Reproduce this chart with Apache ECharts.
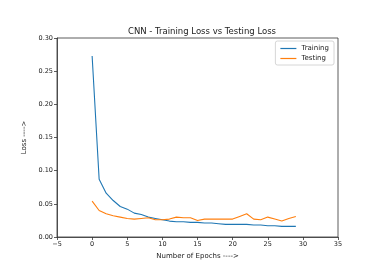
<!DOCTYPE html>
<html><head><meta charset="utf-8">
<script src="https://cdn.jsdelivr.net/npm/echarts@6/dist/echarts.min.js"></script>
<style>html,body{margin:0;padding:0;background:#fff}#c{width:386px;height:273px}</style>
</head><body><div id="c"></div>
<script>
var epochs = [0,1,2,3,4,5,6,7,8,9,10,11,12,13,14,15,16,17,18,19,20,21,22,23,24,25,26,27,28,29];
var trainingLoss = [0.273,0.087,0.066,0.055,0.046,0.042,0.036,0.034,0.030,0.028,0.026,0.024,0.023,0.023,0.022,0.022,0.021,0.021,0.020,0.019,0.019,0.019,0.019,0.018,0.018,0.017,0.017,0.016,0.016,0.016];
var testingLoss = [0.054,0.040,0.035,0.032,0.030,0.028,0.027,0.028,0.029,0.026,0.026,0.027,0.030,0.029,0.029,0.025,0.027,0.027,0.027,0.027,0.027,0.031,0.035,0.027,0.026,0.030,0.027,0.024,0.028,0.031];
var titleText = 'CNN - Training Loss vs Testing Loss';
var xName = 'Number of Epochs ---->';
var yName = 'Loss ---->';
var font = 'DejaVu Sans';
var chart = echarts.init(document.getElementById('c'), null, {renderer:'canvas'});
function pairs(ys){return epochs.map(function(x,i){return [x, ys[i]];});}
chart.setOption({
  animation:false,
  backgroundColor:'#fff',
  title:{text:titleText,left:197,top:22,textAlign:'center',textStyle:{fontFamily:font,fontSize:8.5,fontWeight:'normal',color:'#222'}},
  grid:{left:57,right:48,top:38,bottom:36,show:true,borderColor:'#333',borderWidth:0.8},
  legend:{right:52,top:41,orient:'vertical',itemWidth:16,itemHeight:1.2,itemGap:3,
    icon:'rect',borderColor:'#ccc',borderWidth:0.8,borderRadius:2,padding:[4,5,3,5],
    textStyle:{fontFamily:font,fontSize:7,color:'#222'},data:['Training','Testing']},
  xAxis:{type:'value',min:-5,max:35,interval:5,name:xName,nameLocation:'middle',nameGap:13,
    nameTextStyle:{fontFamily:font,fontSize:7,color:'#222'},
    axisLine:{show:true,onZero:false,lineStyle:{color:'#333',width:0.8}},
    axisTick:{show:true,length:3,lineStyle:{color:'#333',width:0.8}},
    axisLabel:{fontFamily:font,fontSize:6.5,color:'#222',margin:4,formatter:function(v){return v<0?'\u2212'+(-v):String(v);}},
    splitLine:{show:false}},
  yAxis:{type:'value',min:0,max:0.3,interval:0.05,name:yName,nameLocation:'middle',nameGap:25,
    nameTextStyle:{fontFamily:font,fontSize:7,color:'#222'},
    axisLine:{show:true,onZero:false,lineStyle:{color:'#333',width:0.8}},
    axisTick:{show:true,length:3,lineStyle:{color:'#333',width:0.8}},
    axisLabel:{fontFamily:font,fontSize:6.5,color:'#222',margin:4,formatter:function(v){return v.toFixed(2);}},
    splitLine:{show:false}},
  series:[
    {name:'Training',type:'line',data:pairs(trainingLoss),showSymbol:false,symbol:'none',lineStyle:{color:'#1f77b4',width:1.1},itemStyle:{color:'#1f77b4'}},
    {name:'Testing',type:'line',data:pairs(testingLoss),showSymbol:false,symbol:'none',lineStyle:{color:'#ff7f0e',width:1.1},itemStyle:{color:'#ff7f0e'}}
  ]
});
</script></body></html>
